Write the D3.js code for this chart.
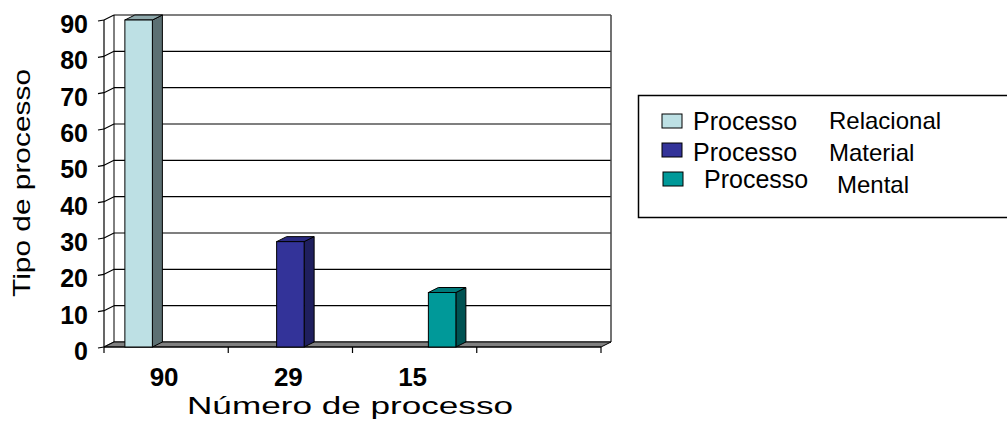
<!DOCTYPE html>
<html>
<head>
<meta charset="utf-8">
<script src="https://cdn.jsdelivr.net/npm/d3@7"></script>
<style>
  body { margin: 0; background: #fff; }
  svg { display: block; }
</style>
</head>
<body>
<svg id="chart" width="1007" height="421"></svg>
<script>
const categories = ['90', '29', '15', '']
const seriesNames = [['Processo', 'Relacional'], ['Processo', 'Material'], ['Processo', 'Mental']]
const seriesValues = [
  [90, 0, 0, 0],
  [0, 29, 0, 0],
  [0, 0, 15, 0]
]
const yTicks = [0, 10, 20, 30, 40, 50, 60, 70, 80, 90]
const colors = [
  {front: '#bde0e4', side: '#5c7073', top: '#8fa9ac'},
  {front: '#333399', side: '#1f1f5e', top: '#2a2a80'},
  {front: '#009999', side: '#005252', top: '#007a7a'}
]

const font = 'Liberation Sans, Arial, sans-serif'
const svg = d3.select('#chart')
const dx = 10, dy = -5
const x0 = 104, x1 = 601
const y = d3.scaleLinear().domain([0, 90]).range([347, 20])
const x = d3.scaleBand().domain(categories).range([x0, x1])
const barW = 27.5
const gap = (x.bandwidth() - barW * 3) / 2

const g = svg.append('g')

// back wall gridlines + side wall diagonals
yTicks.forEach(t => {
  g.append('line')
    .attr('x1', x0 + dx).attr('x2', x1 + dx)
    .attr('y1', y(t) + dy).attr('y2', y(t) + dy)
    .attr('stroke', '#000').attr('stroke-width', 1.2)
  g.append('line')
    .attr('x1', x0).attr('x2', x0 + dx)
    .attr('y1', y(t)).attr('y2', y(t) + dy)
    .attr('stroke', '#000').attr('stroke-width', 1.2)
})
g.append('line').attr('x1', x1 + dx).attr('x2', x1 + dx)
  .attr('y1', y(90) + dy).attr('y2', y(0) + dy).attr('stroke', '#444').attr('stroke-width', 1.5)
g.append('line').attr('x1', x0 + dx).attr('x2', x0 + dx)
  .attr('y1', y(90) + dy).attr('y2', y(0) + dy).attr('stroke', '#000').attr('stroke-width', 1)

// floor
g.append('path')
  .attr('d', `M${x0},${y(0)} L${x0 + dx},${y(0) + dy} L${x1 + dx},${y(0) + dy} L${x1},${y(0)} Z`)
  .attr('fill', '#808080').attr('stroke', '#000').attr('stroke-width', 1)

// front vertical axis
g.append('line').attr('x1', x0).attr('x2', x0)
  .attr('y1', y(90)).attr('y2', y(0)).attr('stroke', '#000').attr('stroke-width', 1.2)
yTicks.forEach(t => {
  g.append('line').attr('x1', x0 - 6).attr('x2', x0)
    .attr('y1', y(t) + 1).attr('y2', y(t)).attr('stroke', '#000').attr('stroke-width', 1.2)
  g.append('text').attr('x', 88).attr('y', y(t) + 13)
    .attr('text-anchor', 'end')
    .attr('font-family', font)
    .attr('font-weight', 'bold').attr('font-size', 25)
    .text(t)
})

// front horizontal axis
g.append('line').attr('x1', x0).attr('x2', x1)
  .attr('y1', y(0)).attr('y2', y(0)).attr('stroke', '#000').attr('stroke-width', 1.2)
d3.range(categories.length + 1).forEach(i => {
  const xx = x0 + i * x.step()
  g.append('line').attr('x1', xx).attr('x2', xx)
    .attr('y1', y(0)).attr('y2', y(0) + 6).attr('stroke', '#000').attr('stroke-width', 1.2)
})
categories.forEach(c => {
  g.append('text').attr('x', x(c) + x.bandwidth() / 2 - 2).attr('y', 386)
    .attr('text-anchor', 'middle')
    .attr('font-family', font)
    .attr('font-weight', 'bold').attr('font-size', 26)
    .text(c)
})

// bars
seriesValues.forEach((vals, si) => {
  vals.forEach((v, ci) => {
    if (!v) return
    const bx = x(categories[ci]) + gap + si * barW
    const top = y(v), bot = y(0)
    const c = colors[si]
    const bg = g.append('g')
    bg.append('path')
      .attr('d', `M${bx + barW},${bot} L${bx + barW + dx},${bot + dy} L${bx + barW + dx},${top + dy} L${bx + barW},${top} Z`)
      .attr('fill', c.side).attr('stroke', '#000').attr('stroke-width', 1)
    bg.append('path')
      .attr('d', `M${bx},${top} L${bx + dx},${top + dy} L${bx + barW + dx},${top + dy} L${bx + barW},${top} Z`)
      .attr('fill', c.top).attr('stroke', '#000').attr('stroke-width', 1)
    bg.append('rect').attr('x', bx).attr('y', top).attr('width', barW).attr('height', bot - top)
      .attr('fill', c.front).attr('stroke', '#000').attr('stroke-width', 1)
  })
})

// axis titles
svg.append('text')
  .attr('transform', 'translate(30,183) rotate(-90)')
  .attr('text-anchor', 'middle')
  .attr('font-family', font)
  .attr('font-size', 24)
  .attr('textLength', 228).attr('lengthAdjust', 'spacingAndGlyphs')
  .text('Tipo de processo')
svg.append('text')
  .attr('x', 350).attr('y', 414)
  .attr('text-anchor', 'middle')
  .attr('font-family', font)
  .attr('font-size', 23)
  .attr('textLength', 326).attr('lengthAdjust', 'spacingAndGlyphs')
  .text('Número de processo')

// legend
const lg = svg.append('g')
lg.append('rect').attr('x', 638.5).attr('y', 95.5).attr('width', 380).attr('height', 122)
  .attr('fill', '#fff').attr('stroke', '#000').attr('stroke-width', 1.5)
const swatchPos = [[662, 114], [662, 143], [663, 172]]
const textPos = [[693, 130, 829, 129], [693, 161, 829, 161], [704, 188, 837, 193]]
seriesNames.forEach((n, i) => {
  lg.append('rect').attr('x', swatchPos[i][0]).attr('y', swatchPos[i][1])
    .attr('width', 20).attr('height', 14)
    .attr('fill', colors[i].front).attr('stroke', '#000').attr('stroke-width', 1)
  lg.append('text').attr('x', textPos[i][0]).attr('y', textPos[i][1])
    .attr('font-family', font).attr('font-size', 25)
    .text(n[0])
  lg.append('text').attr('x', textPos[i][2]).attr('y', textPos[i][3])
    .attr('font-family', font).attr('font-size', 24)
    .text(n[1])
})
</script>
</body>
</html>
